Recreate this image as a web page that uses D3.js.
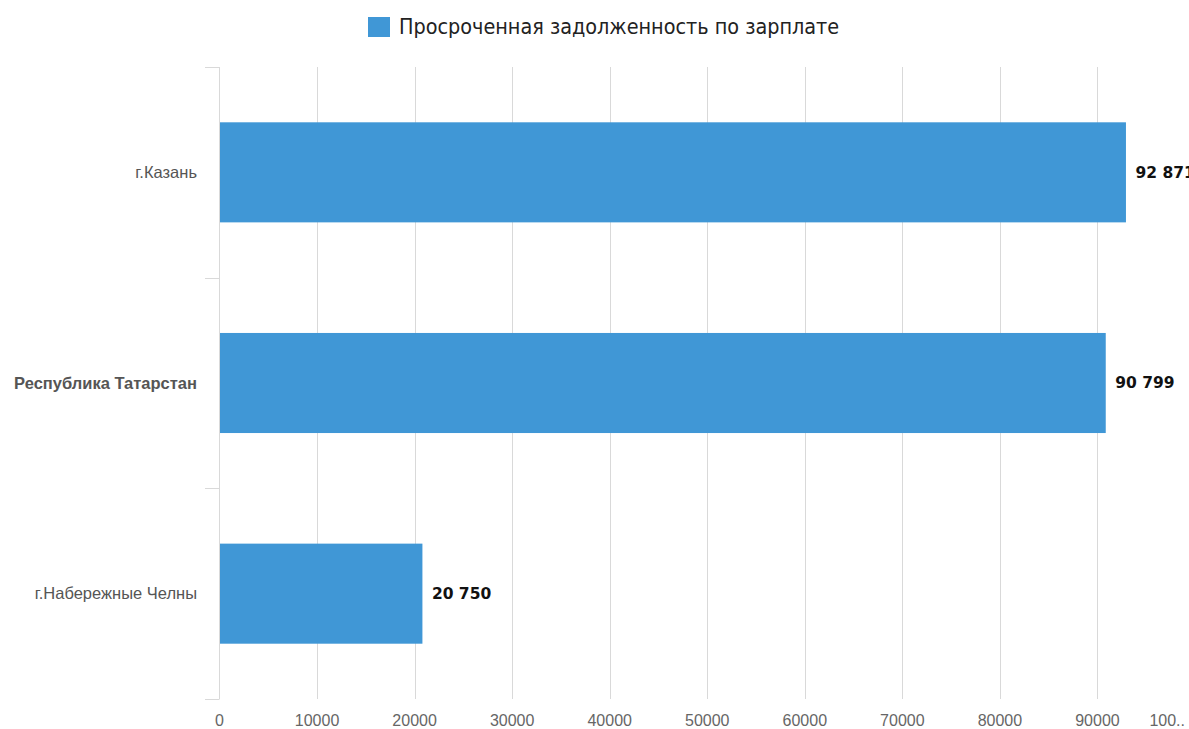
<!DOCTYPE html>
<html>
<head>
<meta charset="utf-8">
<script src="https://cdn.jsdelivr.net/npm/d3@7"></script>
<style>
  body { margin: 0; background: #fff; }
  svg { display: block; }
</style>
</head>
<body>
<svg id="chart" width="1189" height="729"></svg>
<script>
// data
const seriesName = "Просроченная задолженность по зарплате";
const categories = ["г.Казань", "Республика Татарстан", "г.Набережные Челны"];
const values = [92871, 90799, 20750];
const boldCategory = "Республика Татарстан";
const xTicks = [0, 10000, 20000, 30000, 40000, 50000, 60000, 70000, 80000, 90000, 100000];

const width = 1189, height = 729;
const margin = {top: 67, right: -6, bottom: 30, left: 219.5};
const barColor = "#4097d6";

const svg = d3.select("#chart");

const x = d3.scaleLinear()
    .domain([0, 100000])
    .range([margin.left, width - margin.right]);

const y = d3.scaleBand()
    .domain(categories)
    .range([margin.top, height - margin.bottom])
    .paddingInner(0.525)
    .paddingOuter(0.2625);

const plotBottom = height - margin.bottom;

// vertical grid lines
svg.append("g")
    .selectAll("line")
    .data(xTicks.slice(1))
    .join("line")
    .attr("x1", d => Math.round(x(d)) + 0.5)
    .attr("x2", d => Math.round(x(d)) + 0.5)
    .attr("y1", margin.top)
    .attr("y2", plotBottom)
    .attr("stroke", "#d9d9d9")
    .attr("stroke-width", 1);

// left axis line with band separator ticks
let bandEdges = [margin.top, plotBottom];
categories.forEach((c, i) => { if (i > 0) bandEdges.push(y(c) - y.step() * y.paddingInner() / 2); });

svg.append("line")
    .attr("x1", 219.5).attr("x2", 219.5)
    .attr("y1", margin.top).attr("y2", plotBottom)
    .attr("stroke", "#d9d9d9");

svg.append("g")
    .selectAll("line")
    .data(bandEdges)
    .join("line")
    .attr("x1", 205).attr("x2", 219.5)
    .attr("y1", d => Math.round(d) + 0.5)
    .attr("y2", d => Math.round(d) + 0.5)
    .attr("stroke", "#d9d9d9");

// bars
svg.append("g")
    .selectAll("rect")
    .data(values)
    .join("rect")
    .attr("x", x(0) + 0.5)
    .attr("y", (d, i) => y(categories[i]))
    .attr("width", d => x(d) - x(0))
    .attr("height", y.bandwidth())
    .attr("fill", barColor);

// value labels
const fmt = d3.format(",");
svg.append("g")
    .selectAll("text")
    .data(values)
    .join("text")
    .attr("x", d => x(d) + 10)
    .attr("y", (d, i) => y(categories[i]) + y.bandwidth() / 2)
    .attr("dy", "0.35em")
    .attr("font-family", "DejaVu Sans")
    .attr("font-weight", "bold")
    .attr("font-size", "15.5px")
    .attr("fill", "#111")
    .text(d => fmt(d).replace(/,/g, " "));

// category labels
svg.append("g")
    .selectAll("text")
    .data(categories)
    .join("text")
    .attr("x", 197)
    .attr("y", d => y(d) + y.bandwidth() / 2)
    .attr("dy", "0.35em")
    .attr("text-anchor", "end")
    .attr("font-family", "Liberation Sans, Arial, sans-serif")
    .attr("font-size", "16.5px")
    .attr("font-weight", d => d === boldCategory ? "bold" : "normal")
    .attr("fill", "#555")
    .text(d => d);

// x tick labels
svg.append("g")
    .selectAll("text")
    .data(xTicks)
    .join("text")
    .attr("x", d => d === 100000 ? width - 4 : x(d))
    .attr("y", 720)
    .attr("dy", "0.35em")
    .attr("text-anchor", d => d === 100000 ? "end" : "middle")
    .attr("font-family", "Liberation Sans, Arial, sans-serif")
    .attr("font-size", "16px")
    .attr("fill", "#666")
    .text(d => d === 100000 ? "100.." : d);

// legend
const legend = svg.append("g");
legend.append("rect")
    .attr("x", 368).attr("y", 17)
    .attr("width", 22).attr("height", 20)
    .attr("fill", barColor);
legend.append("text")
    .attr("x", 399).attr("y", 27)
    .attr("dy", "0.35em")
    .attr("font-family", "DejaVu Sans Condensed, DejaVu Sans")
    .attr("font-stretch", "condensed")
    .attr("font-size", "21.4px")
    .attr("fill", "#222")
    .text(seriesName);
</script>
</body>
</html>
